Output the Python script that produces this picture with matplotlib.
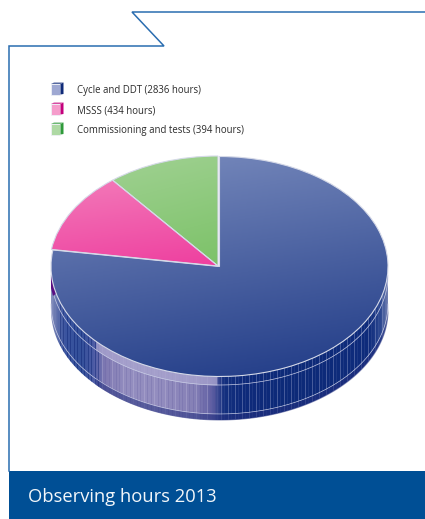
import numpy as np
import matplotlib
matplotlib.use('Agg')
import matplotlib.pyplot as plt
from matplotlib.patches import Wedge, Rectangle, Polygon
from matplotlib.transforms import Affine2D
from matplotlib.colors import LinearSegmentedColormap

labels = ['Cycle and DDT (2836 hours)', 'MSSS (434 hours)', 'Commissioning and tests (394 hours)']
hours = [2836, 434, 394]
title = 'Observing hours 2013'

light_cols = ['#7a8cbe', '#f37ab9', '#a0d192']
dark_cols = ['#1f3a86', '#ee3f9f', '#7cc268']
edge_cols = ['#0f2a78', '#c4007c', '#2f9a3a']
icon_cols = ['#9ea8d2', '#f59ccb', '#aed9a4']

# rim colour by x position
rim_x = [50, 56, 64, 80, 92, 104, 125, 160, 195, 212, 224, 240, 300, 370, 382, 389]
rim_cols = ['#8a93bf', '#5f70ab', '#3c55a0', '#33509a', '#4a5aa4', '#7f79b2', '#938dbf', '#938dbf',
            '#8580b6', '#5f5fa3', '#14307f', '#0f2b7b', '#0d2a78', '#0f2c7c', '#2f4a92', '#7280b2']

cx, cy, rx, ry = 219.5, 266, 168.5, 110
depth = 44
offsets = [(0, 0.5), (-1.5, 0), (-1.5, 0)]

plt.rcParams['font.family'] = ['Open Sans', 'DejaVu Sans']
fig = plt.figure(figsize=(4.25, 5.19), dpi=100)
ax = fig.add_axes([0, 0, 1, 1])
ax.set_xlim(0, 425)
ax.set_ylim(519, 0)
ax.axis('off')

# frame and title band
ax.plot([9, 9, 164, 132, 425], [471, 46, 46, 12, 12], color='#2a6db0', lw=1.1, solid_joinstyle='miter')
ax.add_patch(Rectangle((9, 471), 416, 48, fc='#004f95', ec='none'))
ax.text(28, 497, title, color='#f2f6fa', fontsize=13.2, va='center', ha='left')

# rim: lower half of ellipse swept downwards
t = np.linspace(0, np.pi, 300)
xs = cx + rx * np.cos(t)
ys = cy + ry * np.sin(t)
verts = np.vstack([np.c_[xs, ys + depth], np.c_[xs[::-1], ys[::-1]]])
rim_clip = Polygon(verts, closed=True, fc='none', ec='none')
ax.add_patch(rim_clip)
rim_cmap = LinearSegmentedColormap.from_list(
    'rim', [((x - rim_x[0]) / (rim_x[-1] - rim_x[0]), c) for x, c in zip(rim_x, rim_cols)])
grad = np.linspace(0, 1, 340)[None, :]
im = ax.imshow(grad, extent=[rim_x[0], rim_x[-1], 430, 250], cmap=rim_cmap, aspect='auto', zorder=1)
im.set_clip_path(rim_clip)

# vertical streaks on the rim
for i, x in enumerate(np.arange(60, 388, 3.5)):
    y0 = cy + ry * np.sqrt(max(0, 1 - ((x - cx) / rx) ** 2))
    if 100 < x < 215:
        col, a = ('#c0bbdc', 0.35) if i % 3 == 0 else ('#5f5a9e', 0.25)
    elif x <= 100:
        col, a = ('#0b2272', 0.45)
    else:
        col, a = ('#8f9cc8', 0.45 if i % 2 == 0 else 0.12)
    line = ax.plot([x, x], [y0, y0 + depth], color=col, alpha=a, lw=0.7, zorder=2)[0]
    line.set_clip_path(rim_clip)

# light bands running round the rim
in_band = (xs > 95) & (xs < 218)
ax.fill_between(xs[in_band], ys[in_band], ys[in_band] + 9, color='#a9a4cf', alpha=0.8, lw=0, zorder=3)
ax.plot(xs, ys + 9, color='#c9cde6', lw=0.5, zorder=3)
ax.plot(xs, ys + 38, color='#c9cde6', lw=0.5, zorder=3)
low = xs > 95
ax.fill_between(xs[low], ys[low] + 38, ys[low] + depth, color='#24307f', alpha=0.55, lw=0, zorder=3)

# dark pink rim sliver on the far left
ax.add_patch(Polygon([(51, 275), (58, 292), (53, 296), (51, 288)], closed=True, fc='#5a0f82', ec='none', zorder=3))

# top face slices
total = sum(hours)
end = -90.0
yy, xx = np.mgrid[0:1:200j, 0:1:200j]
diag = 0.2 * xx + 0.8 * yy
for i, v in enumerate(hours):
    # y axis is inverted, so angles run clockwise on screen
    start = end
    sweep = 360.0 * v / total
    end = start + sweep
    ell = Affine2D().scale(rx, ry).translate(cx + offsets[i][0], cy + offsets[i][1])
    w = Wedge((0, 0), 1, start, end, transform=ell + ax.transData, fc='none', ec='none')
    ax.add_patch(w)
    box = w.get_path().get_extents(ell)
    cmap = LinearSegmentedColormap.from_list('s%d' % i, [light_cols[i], dark_cols[i]])
    im = ax.imshow(diag, extent=[box.x0, box.x1, box.y1, box.y0], cmap=cmap, vmin=0, vmax=1,
                   aspect='auto', zorder=4)
    im.set_clip_path(w)
    ax.add_patch(Wedge((0, 0), 1, start, end, transform=ell + ax.transData, fc='none',
                       ec='#d5d9e8', lw=0.8, zorder=5))
ax.set_xlim(0, 425)
ax.set_ylim(519, 0)

# legend
for i, lab in enumerate(labels):
    y = 84 + 20 * i
    ax.add_patch(Rectangle((51, y), 9.5, 10.5, fc=icon_cols[i], ec='#eef0f6', lw=0.6, zorder=6))
    ax.add_patch(Polygon([(60.5, y + 10.5), (60.5, y), (63.5, y - 1.5), (63.5, y + 10)], closed=True,
                         fc=edge_cols[i], ec='none', zorder=6))
    ax.add_patch(Polygon([(51, y), (54, y - 1.5), (63.5, y - 1.5), (60.5, y)], closed=True,
                         fc=edge_cols[i], ec='none', alpha=0.7, zorder=6))
    ax.text(77, y + 7, lab, fontsize=6.9, color='#2b2b2b', va='center', ha='left', zorder=6)

fig.savefig('out.png', dpi=100)
